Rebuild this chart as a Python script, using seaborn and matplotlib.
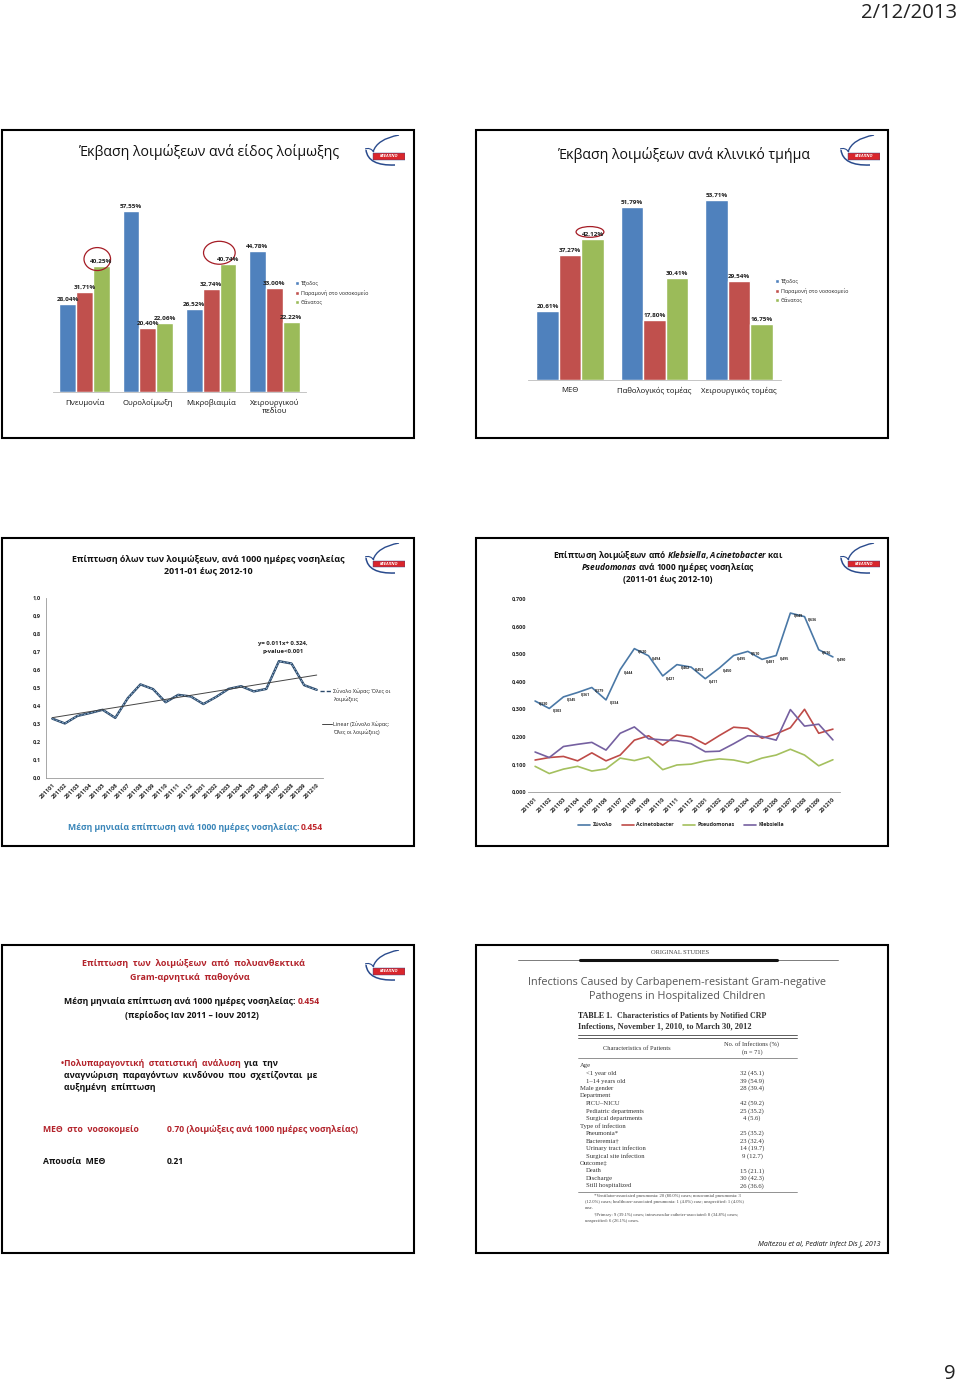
import numpy as np
import pandas as pd
import matplotlib
matplotlib.use('Agg')
import matplotlib.pyplot as plt
import seaborn as sns
from matplotlib.patches import Rectangle, Ellipse, PathPatch
from matplotlib.path import Path
from matplotlib.lines import Line2D
from matplotlib.ticker import FuncFormatter

W, H = 960, 1384

# ---- data ----
outcomes = ['Έξοδος', 'Παραμονή στο νοσοκομείο', 'Θάνατος']

infection_types = ['Πνευμονία', 'Ουρολοίμωξη', 'Μικροβιαιμία', 'Χειρουργικού\nπεδίου']
type_exit = [28.04, 57.55, 26.52, 44.78]
type_stay = [31.71, 20.40, 32.74, 33.00]
type_death = [40.25, 22.06, 40.74, 22.22]

departments = ['ΜΕΘ', 'Παθολογικός τομέας', 'Χειρουργικός τομέας']
dept_exit = [20.61, 51.79, 53.71]
dept_stay = [37.27, 17.80, 29.54]
dept_death = [42.12, 30.41, 16.75]

months = ['201101', '201102', '201103', '201104', '201105', '201106', '201107',
          '201108', '201109', '201110', '201111', '201112', '201201', '201202',
          '201203', '201204', '201205', '201206', '201207', '201208', '201209', '201210']
total_rate = [0.330, 0.303, 0.345, 0.361, 0.379, 0.334, 0.444, 0.520, 0.494, 0.421, 0.462,
              0.453, 0.411, 0.450, 0.495, 0.510, 0.481, 0.495, 0.649, 0.636, 0.516, 0.490]
acineto_rate = [0.116, 0.125, 0.129, 0.113, 0.142, 0.113, 0.134, 0.188, 0.204, 0.170, 0.207,
                0.200, 0.173, 0.205, 0.235, 0.231, 0.195, 0.211, 0.233, 0.300, 0.213, 0.228]
pseudo_rate = [0.093, 0.067, 0.083, 0.093, 0.076, 0.084, 0.123, 0.114, 0.127, 0.081, 0.098,
               0.101, 0.113, 0.120, 0.116, 0.105, 0.123, 0.134, 0.155, 0.134, 0.095, 0.117]
klebs_rate = [0.145, 0.125, 0.165, 0.173, 0.180, 0.152, 0.213, 0.236, 0.193, 0.189, 0.186,
              0.175, 0.146, 0.148, 0.175, 0.204, 0.201, 0.188, 0.299, 0.239, 0.246, 0.189]
mean_rate = '0.454'

table_labels = ['Age', '<1 year old', '1–14 years old', 'Male gender', 'Department', 'PICU–NICU',
                'Pediatric departments', 'Surgical departments', 'Type of infection', 'Pneumonia*',
                'Bacteremia†', 'Urinary tract infection', 'Surgical site infection', 'Outcome‡',
                'Death', 'Discharge', 'Still hospitalized']
table_values = ['', '32 (45.1)', '39 (54.9)', '28 (39.4)', '', '42 (59.2)', '25 (35.2)', '4 (5.6)', '',
                '25 (35.2)', '23 (32.4)', '14 (19.7)', '9 (12.7)', '', '15 (21.1)', '30 (42.3)', '26 (36.6)']
table_indent = [False, True, True, False, False, True, True, True, False, True, True, True, True,
                False, True, True, True]
footnotes = ['*Ventilator-associated pneumonia: 20 (80.0%) cases; nosocomial pneumonia: 3',
             '(12.0%) cases; healthcare-associated pneumonia: 1 (4.0%) case; unspecified: 1 (4.0%)',
             'case.',
             '†Primary: 9 (39.1%) cases; intravascular catheter-associated: 8 (34.8%) cases;',
             'unspecified: 6 (26.1%) cases.']

bar_colors = ['#4f81bd', '#c0504d', '#9bbb59']
line_colors = {'Σύνολο': '#4a78a6', 'Acinetobacter': '#be4b48',
               'Pseudomonas': '#a4c05e', 'Klebsiella': '#7560a0'}
dark_red = '#b3232b'

sns.set_theme(style='white')
plt.rcParams['font.family'] = ['Open Sans', 'DejaVu Sans']
plt.rcParams['mathtext.fontset'] = 'custom'
plt.rcParams['mathtext.rm'] = 'Open Sans:bold'
plt.rcParams['mathtext.it'] = 'Open Sans:italic:bold'
plt.rcParams['mathtext.bf'] = 'Open Sans:bold'

fig = plt.figure(figsize=(9.6, 13.84), dpi=100)


def rect(x0, y0, x1, y1):
    return [x0 / W, 1 - y1 / H, (x1 - x0) / W, (y1 - y0) / H]


def ftext(x, y, s, **kw):
    kw.setdefault('va', 'center')
    return fig.text(x / W, 1 - y / H, s, **kw)


def fline(x0, x1, y, **kw):
    fig.add_artist(Line2D([x0 / W, x1 / W], [1 - y / H, 1 - y / H], transform=fig.transFigure, **kw))


def logo(x0, y0):
    lax = fig.add_axes(rect(x0, y0, x0 + 40, y0 + 32))
    lax.set_xlim(0, 40)
    lax.set_ylim(32, 0)
    lax.axis('off')
    wing = Path([(34, 0), (12, 4), (8, 17)], [Path.MOVETO, Path.CURVE3, Path.CURVE3])
    body = Path([(1, 15), (3, 31), (30, 30)], [Path.MOVETO, Path.CURVE3, Path.CURVE3])
    head = Path([(0, 14), (5, 12), (9, 17)], [Path.MOVETO, Path.CURVE3, Path.CURVE3])
    for p, lw in [(wing, 1.0), (body, 1.1), (head, 0.8)]:
        lax.add_patch(PathPatch(p, fc='none', ec='#2a4b8d', lw=lw))
    lax.add_patch(Rectangle((8, 18), 32, 6.5, fc='#d9262c', ec='#2a4b8d', lw=0.3))
    lax.text(24, 21.4, 'ΚΕΕΛΠΝΟ', fontsize=3, color='white', fontweight='bold',
             style='italic', ha='center', va='center')


# slide frames
for fx0, fy0 in [(2, 130), (476, 130), (2, 538), (476, 538), (2, 945), (476, 945)]:
    fig.add_artist(Rectangle((fx0 / W, 1 - (fy0 + 308) / H), 412 / W, 308 / H,
                             transform=fig.transFigure, fill=False, lw=1.5, ec='black'))

ftext(957, 13, '2/12/2013', fontsize=14.6, ha='right', color='#222')
ftext(956, 1374, '9', fontsize=14.6, ha='right', color='#222')


def fmt_pct(v):
    return f'{v:.2f}%'.replace('.', ',')


def bar_panel(box, cats, exit_v, stay_v, death_v, ymax, legend_at, circles):
    df = pd.DataFrame({'cat': cats * 3,
                       'outcome': np.repeat(outcomes, len(cats)),
                       'val': exit_v + stay_v + death_v})
    ax = fig.add_axes(rect(*box))
    sns.barplot(data=df, x='cat', y='val', hue='outcome', palette=bar_colors, width=0.8,
                saturation=1, ax=ax, legend=False, gap=0)
    ax.set_xlim(-0.5, len(cats) - 0.5)
    ax.set_ylim(0, ymax)
    for cont, vals in zip(ax.containers, [exit_v, stay_v, death_v]):
        ax.bar_label(cont, labels=[fmt_pct(v) for v in vals], fontsize=4.6,
                     fontweight='bold', padding=1.5, color='#222')
    for s in ['top', 'right', 'left']:
        ax.spines[s].set_visible(False)
    ax.spines['bottom'].set_color('#bbbbbb')
    ax.spines['bottom'].set_linewidth(0.6)
    ax.set_yticks([])
    ax.set_xticks(range(len(cats)))
    ax.set_xticklabels(cats, fontsize=5.6, color='#111')
    ax.tick_params(axis='x', length=0, pad=5)
    ax.set_xlabel('')
    ax.set_ylabel('')
    for cx, cy, cw, ch in circles:
        ax.add_patch(Ellipse((cx, cy), cw, ch, fill=False, ec='#a51c25', lw=0.9, clip_on=False))
    handles = [Rectangle((0, 0), 1, 1, fc=c) for c in bar_colors]
    fig.legend(handles, outcomes, loc='upper left',
               bbox_to_anchor=(legend_at[0] / W, 1 - legend_at[1] / H), frameon=False,
               fontsize=3.9, handlelength=0.8, handleheight=0.8, handletextpad=0.3,
               labelspacing=0.6, borderaxespad=0, borderpad=0)


# ---- top-left slide ----
ftext(209, 152, 'Έκβαση λοιμώξεων ανά είδος λοίμωξης', fontsize=10.2, ha='center', color='#111')
logo(365, 135)
bar_panel((53, 172, 306, 392), infection_types, type_exit, type_stay, type_death, 70,
          (295, 281), [(0.2, 42.3, 0.42, 7.3), (2.13, 44.3, 0.5, 7.3)])

# ---- top-right slide ----
ftext(684, 155, 'Έκβαση λοιμώξεων ανά κλινικό τμήμα', fontsize=10.2, ha='center', color='#111')
logo(840, 135)
bar_panel((528, 179, 781, 380), departments, dept_exit, dept_stay, dept_death, 60,
          (775, 279), [(0.235, 44.2, 0.33, 3.2)])

comma1 = FuncFormatter(lambda v, p: f'{v:.1f}'.replace('.', ','))
comma3 = FuncFormatter(lambda v, p: f'{v:.3f}'.replace('.', ','))

# ---- middle-left slide ----
ftext(208, 559, 'Επίπτωση όλων των λοιμώξεων, ανά 1000 ημέρες νοσηλείας', fontsize=6.4,
      ha='center', fontweight='bold', color='#111')
ftext(208, 571, '2011-01 έως 2012-10', fontsize=6.4, ha='center', fontweight='bold', color='#111')
logo(365, 543)
ax = fig.add_axes(rect(46, 598, 323, 778))
tot = pd.DataFrame({'idx': np.arange(len(months)), 'rate': total_rate})
sns.lineplot(data=tot, x='idx', y='rate', color='#2c4a6b', lw=1.7, ax=ax)
sns.lineplot(data=tot, x='idx', y='rate', color='#a9cbe8', lw=0.5, ls=(0, (3, 2)), ax=ax)
sns.regplot(data=tot, x='idx', y='rate', scatter=False, ci=None, ax=ax,
            line_kws=dict(color='#444', lw=0.7))
ax.set_xlim(-0.5, len(months) - 0.5)
ax.set_ylim(0, 1)
ax.set_yticks(np.arange(0, 1.01, 0.1))
ax.yaxis.set_major_formatter(comma1)
ax.set_xticks(range(len(months)))
ax.set_xticklabels(months, rotation=45, ha='right', rotation_mode='anchor')
ax.tick_params(axis='both', labelsize=4.1, length=2, width=0.5, color='#999', pad=1.5, direction='out')
for lab in ax.get_xticklabels() + ax.get_yticklabels():
    lab.set_fontweight('bold')
for s in ['top', 'right']:
    ax.spines[s].set_visible(False)
for s in ['left', 'bottom']:
    ax.spines[s].set_color('#999')
    ax.spines[s].set_linewidth(0.6)
ax.set_xlabel('')
ax.set_ylabel('')
ftext(283, 643, 'y= 0.011x+ 0.324,', fontsize=4.3, ha='center', fontweight='bold', color='#222')
ftext(283, 651, 'p-value<0.001', fontsize=4.3, ha='center', fontweight='bold', color='#222')
fline(320, 332, 691, color='#2c4a6b', lw=1.0, ls=(0, (3, 1.5)))
ftext(333, 691, 'Σύνολο Χώρας: Όλες οι', fontsize=3.9, color='#222')
ftext(333, 700, 'λοιμώξεις', fontsize=3.9, color='#222')
fline(322, 332, 724, color='#444', lw=0.7)
ftext(333, 724, 'Linear (Σύνολο Χώρας:', fontsize=3.9, color='#222')
ftext(333, 733, 'Όλες οι λοιμώξεις)', fontsize=3.9, color='#222')
ftext(299, 828, 'Μέση μηνιαία επίπτωση ανά 1000 ημέρες νοσηλείας:', fontsize=6.2,
      ha='right', fontweight='bold', color='#3a86b9')
ftext(301, 828, mean_rate, fontsize=6.2, ha='left', fontweight='bold', color='#c0282d')

# ---- middle-right slide ----
ftext(668, 556, r'Επίπτωση λοιμώξεων από $\it{Klebsiella}$, $\it{Acinetobacter}$ και',
      fontsize=6.0, ha='center', fontweight='bold', color='#111')
ftext(668, 568, r'$\it{Pseudomonas}$ ανά 1000 ημέρες νοσηλείας', fontsize=6.0, ha='center',
      fontweight='bold', color='#111')
ftext(668, 580, '(2011-01 έως 2012-10)', fontsize=6.0, ha='center', fontweight='bold', color='#111')
logo(840, 543)
ax = fig.add_axes(rect(528, 599, 840, 792))
series = pd.DataFrame({'idx': np.arange(len(months)), 'Σύνολο': total_rate,
                       'Acinetobacter': acineto_rate, 'Pseudomonas': pseudo_rate,
                       'Klebsiella': klebs_rate})
long = series.melt(id_vars='idx', var_name='series', value_name='rate')
sns.lineplot(data=long, x='idx', y='rate', hue='series', palette=line_colors, lw=1.2,
             ax=ax, legend=False)
for i, v in enumerate(total_rate):
    ax.annotate(f'{v:.3f}'.replace('.', ','), (i, v), xytext=(2.5, -1.5), textcoords='offset points',
                fontsize=2.6, fontweight='bold', ha='left', va='center', color='#222')
ax.set_xlim(-0.5, len(months) - 0.5)
ax.set_ylim(0, 0.7)
ax.set_yticks(np.arange(0, 0.71, 0.1))
ax.yaxis.set_major_formatter(comma3)
ax.set_xticks(range(len(months)))
ax.set_xticklabels(months, rotation=45, ha='right', rotation_mode='anchor')
ax.tick_params(axis='both', labelsize=4.0, length=2, width=0.5, color='#999', pad=1.5, direction='out')
ax.tick_params(axis='y', length=0)
for lab in ax.get_xticklabels() + ax.get_yticklabels():
    lab.set_fontweight('bold')
for s in ['top', 'right', 'left']:
    ax.spines[s].set_visible(False)
ax.spines['bottom'].set_color('#999')
ax.spines['bottom'].set_linewidth(0.6)
ax.set_xlabel('')
ax.set_ylabel('')
handles = [Line2D([], [], color=c, lw=1.2) for c in line_colors.values()]
fig.legend(handles, list(line_colors.keys()), loc='center', ncol=4,
           bbox_to_anchor=(681 / W, 1 - 825 / H), frameon=False,
           handlelength=2.2, handletextpad=0.4, columnspacing=1.8, prop={'weight': 'bold', 'size': 3.9})

# ---- bottom-left slide ----
logo(365, 950)
ftext(193, 964, 'Επίπτωση  των  λοιμώξεων  από  πολυανθεκτικά', fontsize=6.5, ha='center',
      fontweight='bold', color=dark_red)
ftext(190, 978, 'Gram-αρνητικά  παθογόνα', fontsize=6.5, ha='center', fontweight='bold', color=dark_red)
ftext(296, 1002, 'Μέση μηνιαία επίπτωση ανά 1000 ημέρες νοσηλείας:', fontsize=6.2,
      ha='right', fontweight='bold', color='#111')
ftext(298, 1002, mean_rate, fontsize=6.2, ha='left', fontweight='bold', color=dark_red)
ftext(192, 1015, '(περίοδος Ιαν 2011 – Ιουν 2012)', fontsize=6.2, ha='center',
      fontweight='bold', color='#111')
ftext(241, 1063, '•Πολυπαραγοντική  στατιστική  ανάλυση', fontsize=6.2, ha='right',
      fontweight='bold', color=dark_red)
ftext(244, 1063, 'για  την', fontsize=6.2, ha='left', fontweight='bold', color='#111')
ftext(64, 1076, 'αναγνώριση  παραγόντων  κινδύνου  που  σχετίζονται  με', fontsize=6.2,
      fontweight='bold', color='#111')
ftext(64, 1088, 'αυξημένη  επίπτωση', fontsize=6.2, fontweight='bold', color='#111')
ftext(43, 1129, 'ΜΕΘ  στο  νοσοκομείο', fontsize=6.2, fontweight='bold', color=dark_red)
ftext(167, 1129, '0.70 (λοιμώξεις ανά 1000 ημέρες νοσηλείας)', fontsize=6.2,
      fontweight='bold', color=dark_red)
ftext(43, 1161, 'Απουσία  ΜΕΘ', fontsize=6.2, fontweight='bold', color='#111')
ftext(167, 1161, '0.21', fontsize=6.2, fontweight='bold', color='#111')

# ---- bottom-right slide (article excerpt) ----
serif = ['Liberation Serif', 'DejaVu Serif']
ftext(680, 953, 'ORIGINAL STUDIES', fontsize=4.6, ha='center', family=serif, color='#444')
fline(518, 838, 960, color='#666', lw=0.6)
fline(580, 777, 960, color='#111', lw=2.2)
ftext(677, 983, 'Infections Caused by Carbapenem-resistant Gram-negative', fontsize=7.8,
      ha='center', color='#555')
ftext(677, 996, 'Pathogens in Hospitalized Children', fontsize=7.8, ha='center', color='#555')
ftext(578, 1016, 'TABLE 1.', fontsize=5.8, family=serif, fontweight='bold', color='#222')
ftext(617, 1016, 'Characteristics of Patients by Notified CRP', fontsize=5.8, family=serif,
      fontweight='bold', color='#333')
ftext(578, 1026, 'Infections, November 1, 2010, to March 30, 2012', fontsize=6.0, family=serif,
      fontweight='bold', color='#333')
fline(578, 797, 1035, color='#444', lw=0.6)
fline(578, 797, 1037.5, color='#444', lw=0.6)
ftext(637, 1048, 'Characteristics of Patients', fontsize=4.6, ha='center', family=serif, color='#333')
ftext(752, 1044, 'No. of Infections (%)', fontsize=4.6, ha='center', family=serif, color='#333')
ftext(752, 1052, '(n = 71)', fontsize=4.6, ha='center', family=serif, color='#333')
fline(578, 797, 1058, color='#666', lw=0.5)
for k, (lab, val, ind) in enumerate(zip(table_labels, table_values, table_indent)):
    ry = 1066 + k * 7.5
    ftext(586 if ind else 580, ry, lab, fontsize=4.8, family=serif, color='#333')
    if val:
        ftext(752, ry, val, fontsize=4.8, ha='center', family=serif, color='#333')
fline(578, 797, 1192, color='#666', lw=0.5)
for k, note in enumerate(footnotes):
    ny = [1196, 1202, 1208, 1215, 1221][k]
    ftext(594 if k in (0, 3) else 585, ny, note, fontsize=3.3, family=serif, color='#444')
ftext(880, 1245, 'Maltezou et al, Pediatr Infect Dis J, 2013', fontsize=5.0, ha='right',
      style='italic', color='#111')

fig.savefig('out.png', dpi=100)
